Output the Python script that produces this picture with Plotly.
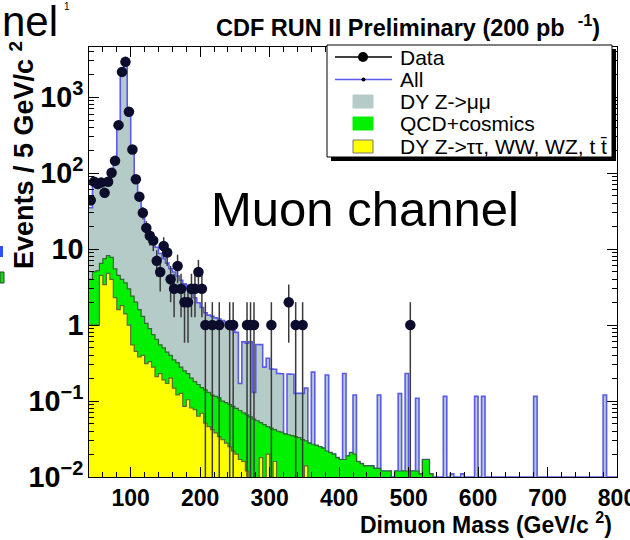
import numpy as np
import plotly.graph_objects as go

# ---------------- data (5 GeV bins, 40-800 GeV) ----------------
bin_edges = np.arange(40, 801, 5)          # 153 edges -> 152 bins

data_counts = [
    44, 77, 72, 75, 55, 77, 101, 145, 428, 2150,
    2915, 641, 205, 83, 49, 30, 19, 15, 13, 7,
    5, 11, 9, 4, 3, 6, 3, 2, 2, 3,
    3, 5, 3, 1, 0, 1, 0, 1, 0, 0,
    1, 1, 0, 0, 0, 1, 1, 1, 0, 0,
    0, 0, 1, 0, 0, 0, 0, 2, 0, 1,
    0, 1, 0, 0, 0, 0, 0, 0, 0, 0,
    0, 0, 0, 0, 0, 0, 0, 0, 0, 0,
    0, 0, 0, 0, 0, 0, 0, 0, 0, 0,
    0, 0, 1, 0, 0, 0, 0, 0, 0, 0,
    0, 0, 0, 0, 0, 0, 0, 0, 0, 0,
    0, 0, 0, 0, 0, 0, 0, 0, 0, 0,
    0, 0, 0, 0, 0, 0, 0, 0, 0, 0,
    0, 0, 0, 0, 0, 0, 0, 0, 0, 0,
    0, 0, 0, 0, 0, 0, 0, 0, 0, 0,
    0, 0,
]

# DY Z->mumu expectation
dy_mumu = [
    31, 75, 71, 67, 64, 72, 92, 145, 415, 2250,
    2950, 647, 208, 83, 46, 28.7, 20, 15.1, 12.2, 9.9,
    8.2, 7.0, 6.1, 5.1, 4.65, 4.1, 3.6, 3.25, 2.8, 2.4,
    2.1, 1.8, 1.55, 1.31, 1.22, 1.18, 1.13, 1.09, 1.05, 1.0,
    0.81, 0.77, 0.72, 0.095, 0.53, 0.51, 0.54, 0.072, 0.50, 0.50,
    0.23, 0.32, 0.22, 0.22, 0.19, 0.19, 0, 0.19, 0.19, 0.092,
    0.093, 0.095, 0.118, 0, 0.213, 0, 0, 0, 0.198, 0,
    0, 0, 0, 0.213, 0, 0, 0.10, 0, 0, 0,
    0, 0, 0, 0.107, 0, 0, 0, 0, 0, 0.113,
    0, 0.218, 0, 0, 0.097, 0, 0, 0, 0, 0,
    0, 0, 0.115, 0, 0.011, 0, 0, 0.011, 0, 0,
    0, 0.115, 0, 0.115, 0, 0, 0, 0, 0, 0,
    0, 0, 0, 0, 0, 0, 0, 0, 0.115, 0,
    0, 0, 0, 0, 0, 0, 0, 0, 0, 0,
    0, 0, 0, 0, 0, 0, 0, 0, 0.12, 0,
    0, 0,
]

# QCD + cosmics expectation
qcd_cosmics = [
    3.0, 4.0, 4.2, 2.0, 4.1, 3.4, 3.8, 3.2, 2.9, 2.2,
    2.2, 2.0, 1.85, 1.55, 1.22, 0.9, 0.74, 0.57, 0.47, 0.44,
    0.32, 0.31, 0.27, 0.20, 0.20, 0.20, 0.154, 0.165, 0.126, 0.119,
    0.103, 0.102, 0.081, 0.089, 0.084, 0.078, 0.077, 0.076, 0.069, 0.067,
    0.065, 0.063, 0.060, 0.058, 0.054, 0.054, 0.062, 0.058, 0.055, 0.034,
    0.049, 0.026, 0.044, 0.026, 0.040, 0.039, 0.037, 0.036, 0.035, 0.034,
    0.033, 0.031, 0.016, 0.028, 0.027, 0.026, 0.025, 0.024, 0.022, 0.021,
    0.020, 0.018, 0.017, 0.017, 0.019, 0.021, 0.020, 0.016, 0.015, 0.014,
    0.014, 0.014, 0.013, 0.013, 0.012, 0.012, 0.012, 0, 0.012, 0.012,
    0.012, 0.012, 0.012, 0.012, 0.012, 0.011, 0.017, 0.017, 0.011, 0,
] + [0] * 52

# DY Z->tautau, WW, WZ, ttbar expectation
dy_tautau_ww_wz_tt = [
    1.0, 1.0, 1.0, 4.5, 3.4, 4.8, 4.0, 2.3, 1.6, 1.8,
    1.4, 1.0, 0.55, 0.45, 0.38, 0.40, 0.31, 0.33, 0.28, 0.21,
    0.23, 0.19, 0.17, 0.20, 0.148, 0.12, 0.126, 0.085, 0.104, 0.081,
    0.077, 0.063, 0.069, 0.051, 0.046, 0.042, 0.038, 0.034, 0.031, 0.028,
    0.025, 0.022, 0.020, 0.017, 0.016, 0.012, 0, 0, 0, 0.018,
    0, 0.02, 0, 0.016, 0, 0, 0, 0, 0, 0,
    0, 0, 0.014, 0, 0, 0, 0, 0, 0, 0,
] + [0] * 82

legend_labels = ["Data", "All", "DY Z->\u03bc\u03bc", "QCD+cosmics",
                 "DY Z->\u03c4\u03c4, WW, WZ, t t\u0304"]
x_tick_values = [100, 200, 300, 400, 500, 600, 700, 800]

# ---------------- derived stacks ----------------
edges = np.asarray(bin_edges, dtype=float)
centers = edges[:-1] + np.diff(edges) / 2
counts = np.asarray(data_counts, dtype=float)
yel = np.asarray(dy_tautau_ww_wz_tt, dtype=float)
grn = yel + np.asarray(qcd_cosmics, dtype=float)
tot = grn + np.asarray(dy_mumu, dtype=float)

YLOG = [-2, 3.66]
floor = 10 ** YLOG[0]


def step(v, fl):
    v = np.where(v > 0, v, fl)
    return np.append(v, v[-1])


# ---------------- figure ----------------
W, H = 630, 540
L, R, T, B = 89, 13, 47, 63
PW, PH = W - L - R, H - T - B


def px(x):
    return (x - L) / PW


def py(y):
    return (H - B - y) / PH


FONT = "Liberation Sans, Arial, Helvetica, sans-serif"
TEAL = "#b5cbc8"
GREEN = "#00f000"
YELLOW = "#ffff00"
BLUE = "#5a5aee"

fig = go.Figure()

fig.add_trace(go.Scatter(
    x=edges, y=step(tot, floor), mode="lines", name=legend_labels[1],
    line=dict(shape="hv", color=BLUE, width=1.6),
    fill="tozeroy", fillcolor=TEAL, showlegend=False))

fig.add_trace(go.Scatter(
    x=edges, y=step(grn, 1e-5), mode="lines", name=legend_labels[3],
    line=dict(shape="hv", color="#2f6b2f", width=1.2),
    fill="tozeroy", fillcolor=GREEN, showlegend=False))

fig.add_trace(go.Scatter(
    x=edges, y=step(yel, 1e-5), mode="lines", name=legend_labels[4],
    line=dict(shape="hv", color="#5f6a35", width=1.2),
    fill="tozeroy", fillcolor=YELLOW, showlegend=False))

mask = counts > 0
err = np.sqrt(counts)
err_lo = np.minimum(err, counts * 0.999)
fig.add_trace(go.Scatter(
    x=centers[mask], y=counts[mask], mode="markers", name=legend_labels[0],
    marker=dict(size=10.5, color="#0c0c2c"),
    error_y=dict(type="data", array=err[mask], arrayminus=err_lo[mask],
                 color="#3a3a3a", thickness=1.5, width=0),
    showlegend=False))

# ---------------- legend (drawn) ----------------
shapes = []
annotations = []
shapes.append(dict(type="rect", xref="paper", yref="paper",
                   x0=px(331), x1=px(616), y0=py(161), y1=py(49),
                   fillcolor="black", line=dict(width=0), layer="above"))
shapes.append(dict(type="rect", xref="paper", yref="paper",
                   x0=px(327), x1=px(612), y0=py(157), y1=py(45),
                   fillcolor="white", line=dict(color="black", width=1), layer="above"))
rows = [57, 79.5, 101.5, 123.5, 146.5]
# Data
shapes.append(dict(type="line", xref="paper", yref="paper",
                   x0=px(335), x1=px(392), y0=py(rows[0]), y1=py(rows[0]),
                   line=dict(color="black", width=1.5), layer="above"))
shapes.append(dict(type="circle", xref="paper", yref="paper",
                   x0=px(358), x1=px(368), y0=py(rows[0] + 5), y1=py(rows[0] - 5),
                   fillcolor="black", line=dict(width=0), layer="above"))
# All
shapes.append(dict(type="line", xref="paper", yref="paper",
                   x0=px(335), x1=px(392), y0=py(rows[1]), y1=py(rows[1]),
                   line=dict(color=BLUE, width=1.5), layer="above"))
shapes.append(dict(type="circle", xref="paper", yref="paper",
                   x0=px(361.5), x1=px(365.5), y0=py(rows[1] + 2), y1=py(rows[1] - 2),
                   fillcolor="black", line=dict(width=0), layer="above"))
for r, col, lc in [(rows[2], TEAL, TEAL), (rows[3], GREEN, GREEN), (rows[4], YELLOW, "#777777")]:
    shapes.append(dict(type="rect", xref="paper", yref="paper",
                       x0=px(353), x1=px(373), y0=py(r + 6.5), y1=py(r - 6.5),
                       fillcolor=col, line=dict(color=lc, width=1), layer="above"))
for r, lab in zip(rows, legend_labels):
    annotations.append(dict(text=lab, xref="paper", yref="paper", x=px(398), y=py(r),
                            xanchor="left", yanchor="middle", showarrow=False,
                            font=dict(family=FONT, size=21, color="black")))

# stray fragments of the slide behind the plot (left edge)
shapes.append(dict(type="rect", xref="paper", yref="paper",
                   x0=px(0), x1=px(3), y0=py(257), y1=py(246),
                   fillcolor="#3050ff", line=dict(width=0)))
shapes.append(dict(type="rect", xref="paper", yref="paper",
                   x0=px(0), x1=px(4), y0=py(283), y1=py(272),
                   fillcolor="#20d020", line=dict(color="#205020", width=1)))

# ---------------- texts ----------------
annotations.append(dict(text="CDF RUN II Preliminary (200 pb\u00a0\u00a0<sup>-1</sup>)",
                        xref="paper", yref="paper", x=px(214), y=py(26),
                        xanchor="left", yanchor="middle", showarrow=False,
                        font=dict(family=FONT, size=23.5, color="black", weight="bold")))
annotations.append(dict(text="Events / 5 GeV/c <sup>2</sup>", textangle=-90,
                        xref="paper", yref="paper", x=px(22), y=py(39),
                        xanchor="center", yanchor="top", showarrow=False,
                        font=dict(family=FONT, size=27, color="black", weight="bold")))
annotations.append(dict(text="Dimuon Mass (GeV/c <sup>2</sup>)",
                        xref="paper", yref="paper", x=px(614), y=py(523),
                        xanchor="right", yanchor="middle", showarrow=False,
                        font=dict(family=FONT, size=23, color="black", weight="bold")))
annotations.append(dict(text="Muon channel",
                        xref="paper", yref="paper", x=px(209), y=py(209),
                        xanchor="left", yanchor="middle", showarrow=False,
                        font=dict(family=FONT, size=49, color="black")))
annotations.append(dict(text="nel",
                        xref="paper", yref="paper", x=px(0), y=py(21),
                        xanchor="left", yanchor="middle", showarrow=False,
                        font=dict(family=FONT, size=42, color="black")))
annotations.append(dict(text="1",
                        xref="paper", yref="paper", x=px(62), y=py(6),
                        xanchor="left", yanchor="middle", showarrow=False,
                        font=dict(family=FONT, size=10, color="black")))

fig.update_layout(
    width=W, height=H, autosize=False,
    margin=dict(l=L, r=R, t=T, b=B, pad=0, autoexpand=False),
    paper_bgcolor="white", plot_bgcolor="white",
    showlegend=False,
    shapes=shapes, annotations=annotations,
    xaxis=dict(range=[40, 800], tickmode="array", tickvals=x_tick_values,
               automargin=False,
               ticks="inside", ticklen=10, tickwidth=1, tickcolor="black",
               minor=dict(ticks="inside", ticklen=5, dtick=20, tickcolor="black", showgrid=False),
               showline=True, linecolor="black", linewidth=1, mirror="ticks",
               showgrid=False, zeroline=False, ticklabeloverflow="allow",
               tickfont=dict(family=FONT, size=23, color="black", weight="bold")),
    yaxis=dict(type="log", range=YLOG, dtick=1, exponentformat="power",
               automargin=False,
               ticks="inside", ticklen=10, tickwidth=1, tickcolor="black",
               minor=dict(ticks="inside", ticklen=5, tickcolor="black", showgrid=False),
               showline=True, linecolor="black", linewidth=1, mirror="ticks",
               showgrid=False, zeroline=False,
               tickfont=dict(family=FONT, size=23, color="black", weight="bold")),
)

fig.write_html("out.html")
